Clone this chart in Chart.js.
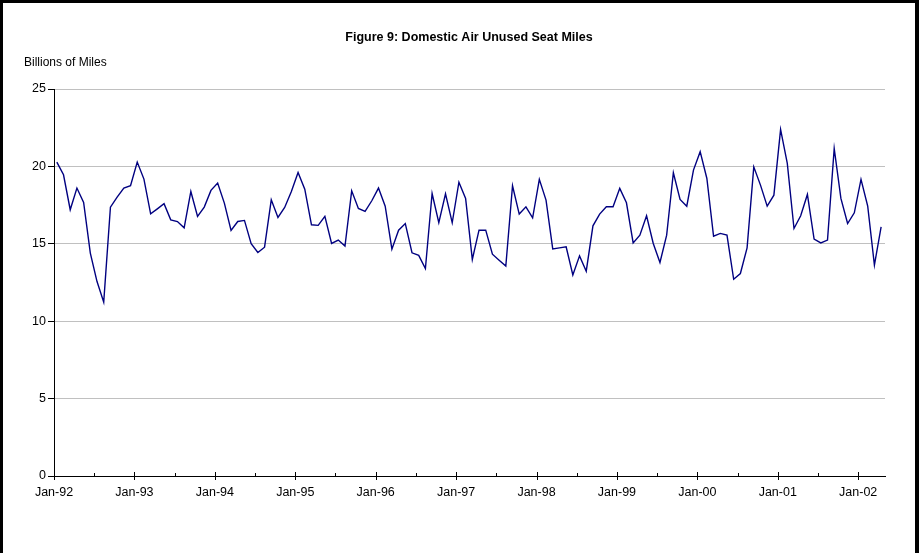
<!DOCTYPE html>
<html lang="en">
<head>
  <meta charset="UTF-8">
  <title>Figure 9: Domestic Air Unused Seat Miles</title>
  <script src="https://cdn.jsdelivr.net/npm/chart.js"></script>
  <style>
    html, body { margin: 0; padding: 0; background: #fff; }
    .wrap { position: relative; width: 919px; height: 553px; overflow: hidden; }
    .frame { position: absolute; left: 0; top: 0; width: 919px; height: 560px; box-sizing: border-box;
             border: 3px solid #000; border-right-width: 4px; pointer-events: none; }
    canvas { position: absolute; left: 0; top: 0; }
  </style>
</head>
<body>
  <div class="wrap">
    <canvas id="chart" width="919" height="553"></canvas>
    <div class="frame"></div>
  </div>

  <script>
    // monthly values, Jan-92 .. Apr-02 (billions of miles)
    const y1992 = [20.28, 19.46, 17.2, 18.6, 17.67, 14.4, 12.56, 11.23, 17.37, 18.02, 18.6, 18.75];
    const y1993 = [20.28, 19.18, 16.94, 17.26, 17.59, 16.55, 16.44, 16.03, 18.38, 16.77, 17.37, 18.45];
    const y1994 = [18.92, 17.63, 15.86, 16.44, 16.51, 15.0, 14.44, 14.78, 17.84, 16.7, 17.35, 18.38];
    const y1995 = [19.61, 18.53, 16.23, 16.19, 16.77, 15.02, 15.24, 14.85, 18.42, 17.28, 17.09, 17.78];
    const y1996 = [18.6, 17.43, 14.65, 15.88, 16.31, 14.42, 14.25, 13.4, 18.25, 16.36, 18.23, 16.36];
    const y1997 = [18.98, 17.93, 13.99, 15.88, 15.88, 14.33, 13.94, 13.56, 18.75, 16.92, 17.39, 16.68];
    const y1998 = [19.16, 17.82, 14.67, 14.74, 14.8, 12.99, 14.22, 13.23, 16.16, 16.92, 17.39, 17.39];
    const y1999 = [18.58, 17.65, 15.06, 15.56, 16.81, 15.02, 13.79, 15.56, 19.59, 17.87, 17.43, 19.76];
    const y2000 = [20.95, 19.22, 15.49, 15.67, 15.56, 12.71, 13.08, 14.74, 19.97, 18.79, 17.43, 18.14];
    const y2001 = [22.39, 20.19, 15.99, 16.81, 18.19, 15.3, 15.06, 15.24, 21.16, 17.93, 16.31, 17.0];
    const y2002 = [19.16, 17.43, 13.62, 16.1];

    const tickLabels = ['Jan-92', 'Jan-93', 'Jan-94', 'Jan-95', 'Jan-96', 'Jan-97',
                        'Jan-98', 'Jan-99', 'Jan-00', 'Jan-01', 'Jan-02'];
    const yTicks = [0, 5, 10, 15, 20, 25];

    const titleText = 'Figure 9: Domestic Air Unused Seat Miles';
    const unitText = 'Billions of Miles';

    const values = [].concat(y1992, y1993, y1994, y1995, y1996, y1997,
                             y1998, y1999, y2000, y2001, y2002);
    // x = months since Jan-92, each value sits mid-month
    const points = values.map((v, i) => ({ x: i + 0.42, y: v }));
    // a tick every half year, labels on the Januaries
    const xTicks = [];
    for (let m = 0; m <= (tickLabels.length - 1) * 12; m += 6) xTicks.push(m);

    const FONT = "'Liberation Sans', Arial, sans-serif";

    // title, unit label and the small axis ticks
    const decor = {
      id: 'decor',
      afterDraw(chart) {
        const ctx = chart.ctx;
        const xs = chart.scales.x;
        const axisY = chart.chartArea.bottom;
        ctx.save();
        ctx.strokeStyle = '#000';
        ctx.lineWidth = 1;
        xTicks.forEach(m => {
          const px = Math.round(xs.getPixelForValue(m)) + 0.5;
          ctx.beginPath();
          if (m % 12 === 0) { ctx.moveTo(px, axisY - 4); ctx.lineTo(px, axisY + 4); }
          else { ctx.moveTo(px, axisY - 3); ctx.lineTo(px, axisY); }
          ctx.stroke();
        });
        ctx.fillStyle = '#000';
        ctx.textBaseline = 'middle';
        ctx.font = 'bold 12.5px ' + FONT;
        ctx.textAlign = 'center';
        ctx.fillText(titleText, 469, 38);
        ctx.font = '12px ' + FONT;
        ctx.textAlign = 'left';
        ctx.fillText(unitText, 24, 63);
        ctx.restore();
      }
    };

    new Chart(document.getElementById('chart'), {
      type: 'line',
      data: {
        datasets: [{
          label: 'Unused Seat Miles',
          data: points,
          borderColor: '#000080',
          borderWidth: 1.4,
          pointRadius: 0,
          tension: 0,
          fill: false
        }]
      },
      options: {
        responsive: false,
        animation: false,
        layout: { padding: { top: 89, right: 34, left: 0, bottom: 0 } },
        plugins: { legend: { display: false }, tooltip: { enabled: false } },
        scales: {
          x: {
            type: 'linear',
            min: 0,
            max: 124,
            afterFit(s) { s.height = 77; },
            afterBuildTicks(s) { s.ticks = xTicks.map(v => ({ value: v })); },
            grid: { display: true, drawOnChartArea: false, drawTicks: false },
            border: { display: true, color: '#000', width: 1 },
            ticks: {
              autoSkip: false,
              maxRotation: 0,
              padding: 9,
              color: '#000',
              font: { family: FONT, size: 12.5 },
              callback: v => (v % 12 === 0 ? tickLabels[v / 12] : '')
            }
          },
          y: {
            min: 0,
            max: 25,
            afterFit(s) { s.width = 54; },
            afterBuildTicks(s) { s.ticks = yTicks.map(v => ({ value: v })); },
            grid: { color: '#c0c0c0', lineWidth: 1, tickLength: 6, tickColor: '#000' },
            border: { display: true, color: '#000', width: 1 },
            ticks: {
              padding: 2,
              color: '#000',
              font: { family: FONT, size: 12.5 }
            }
          }
        }
      },
      plugins: [decor]
    });
  </script>
</body>
</html>
